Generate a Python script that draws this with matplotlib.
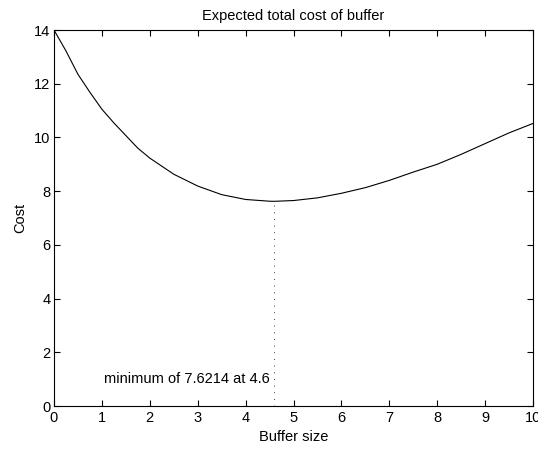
import matplotlib
matplotlib.use("Agg")
import matplotlib.pyplot as plt

buffer_size = [0, 0.25, 0.5, 0.75, 1, 1.25, 1.5, 1.75, 2, 2.5, 3, 3.5, 4, 4.5, 4.6, 5, 5.5, 6, 6.5, 7, 7.5, 8, 8.5, 9, 9.5, 10]
cost = [14.0, 13.22, 12.35, 11.68, 11.05, 10.54, 10.07, 9.60, 9.23, 8.63, 8.19, 7.87, 7.69, 7.625, 7.6214, 7.65, 7.75, 7.92, 8.13, 8.40, 8.71, 9.00, 9.37, 9.77, 10.17, 10.52]
min_x = 4.6
min_y = 7.6214
xticks = list(range(0, 11))
yticks = list(range(0, 15, 2))

plt.rcParams['font.family'] = ['Liberation Sans', 'DejaVu Sans']
fs = 10.5
fig = plt.figure(figsize=(5.38, 4.49), dpi=100)
ax = fig.add_axes([54/538, 43/449, 479/538, 376/449])
ax.plot(buffer_size, cost, color='black', lw=0.8)
ax.plot([min_x, min_x], [0, min_y], color='black', lw=0.6, linestyle=(0, (1, 7)))
ax.text(4.5, 1, f"minimum of {min_y} at {min_x}", ha='right', va='center', fontsize=fs)
ax.set_xlim(0, 10)
ax.set_ylim(0, 14)
ax.set_xticks(xticks)
ax.set_yticks(yticks)
ax.tick_params(direction='in', top=True, right=True, length=4, width=0.8, labelsize=fs)
ax.tick_params(axis='x', pad=3.5)
ax.tick_params(axis='y', pad=2.5)
for s in ax.spines.values():
    s.set_linewidth(0.8)
ax.set_title("Expected total cost of buffer", fontsize=fs, pad=7.5)
ax.set_xlabel("Buffer size", fontsize=fs, labelpad=4)
ax.set_ylabel("Cost", fontsize=fs, labelpad=5)
fig.savefig("out.png", dpi=100)
